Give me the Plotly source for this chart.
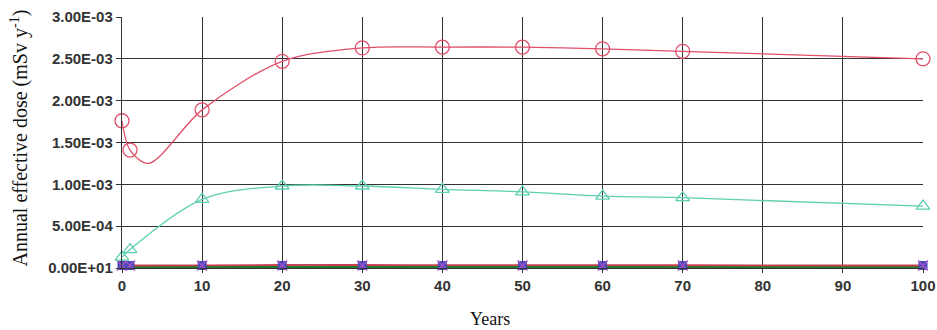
import plotly.graph_objects as go

years = [0, 1, 10, 20, 30, 40, 50, 60, 70, 100]

dose_red = [1.76e-3, 1.41e-3, 1.89e-3, 2.47e-3, 2.63e-3, 2.64e-3, 2.64e-3, 2.62e-3, 2.59e-3, 2.50e-3]
# red curve passes through a minimum between the first marked years
red_line_years = [0, 1, 3.3, 10, 20, 30, 40, 50, 60, 70, 100]
red_line_dose = [1.76e-3, 1.41e-3, 1.25e-3, 1.89e-3, 2.47e-3, 2.63e-3, 2.64e-3, 2.64e-3, 2.62e-3, 2.59e-3, 2.50e-3]

dose_cyan = [1.3e-4, 2.2e-4, 8.2e-4, 9.8e-4, 9.8e-4, 9.4e-4, 9.1e-4, 8.6e-4, 8.4e-4, 7.4e-4]
dose_darkred = [3.0e-5, 3.0e-5, 3.2e-5, 3.6e-5, 3.6e-5, 3.5e-5, 3.4e-5, 3.4e-5, 3.3e-5, 3.0e-5]
dose_blue = [3.0e-5, 3.0e-5, 3.0e-5, 3.0e-5, 3.0e-5, 3.0e-5, 3.0e-5, 3.0e-5, 3.0e-5, 3.0e-5]
dose_purple = [3.0e-5, 3.0e-5, 3.0e-5, 3.0e-5, 3.0e-5, 3.0e-5, 3.0e-5, 3.0e-5, 3.0e-5, 3.0e-5]
dose_green = [5e-6, 5e-6, 6e-6, 8e-6, 8e-6, 8e-6, 7e-6, 7e-6, 7e-6, 6e-6]

y_tickvals = [0, 5e-4, 1e-3, 1.5e-3, 2e-3, 2.5e-3, 3e-3]
y_ticktext = ["0.00E+01", "5.00E-04", "1.00E-03", "1.50E-03", "2.00E-03", "2.50E-03", "3.00E-03"]
x_tickvals = [0, 10, 20, 30, 40, 50, 60, 70, 80, 90, 100]

fig = go.Figure()

fig.add_trace(go.Scatter(x=years, y=dose_green, mode="lines",
                         line=dict(color="#217a2a", width=3.5, shape="spline"),
                         cliponaxis=False, showlegend=False))
fig.add_trace(go.Scatter(x=years, y=dose_darkred, mode="lines",
                         line=dict(color="#c8404f", width=1.8, shape="spline"),
                         cliponaxis=False, showlegend=False))
fig.add_trace(go.Scatter(x=years, y=dose_blue, mode="markers",
                         marker=dict(symbol="square", size=8, color="#4a4ab8",
                                     line=dict(color="#4a4ab8", width=1)),
                         cliponaxis=False, showlegend=False))
fig.add_trace(go.Scatter(x=years, y=dose_purple, mode="markers",
                         marker=dict(symbol="x-thin-open", size=10, color="#a050c8",
                                     line=dict(color="#a050c8", width=1.5)),
                         cliponaxis=False, showlegend=False))
fig.add_trace(go.Scatter(x=years, y=dose_cyan, mode="lines+markers",
                         line=dict(color="#5fcfb2", width=1.3, shape="spline"),
                         marker=dict(symbol="triangle-up-open", size=12, color="#5fcfb2",
                                     line=dict(width=1.3)),
                         cliponaxis=False, showlegend=False))
fig.add_trace(go.Scatter(x=red_line_years, y=red_line_dose, mode="lines",
                         line=dict(color="#e0506a", width=1.3, shape="spline", smoothing=0.9),
                         cliponaxis=False, showlegend=False))
fig.add_trace(go.Scatter(x=years, y=dose_red, mode="markers",
                         marker=dict(symbol="circle-open", size=14, color="#e0506a",
                                     line=dict(width=1.3)),
                         cliponaxis=False, showlegend=False))

axis_font = dict(family="Liberation Sans, Arial, sans-serif", size=15, color="#333333", weight="bold")

fig.update_xaxes(range=[0, 100], tickvals=x_tickvals, ticks="outside", ticklen=4,
                 tickcolor="#333333", showgrid=True, gridcolor="#333333", gridwidth=1.4,
                 showline=True, linecolor="#333333", linewidth=1.4, zeroline=False,
                 tickfont=axis_font, automargin=False)
fig.update_yaxes(range=[0, 3e-3], tickvals=y_tickvals, ticktext=y_ticktext,
                 ticks="outside", ticklen=5, tickcolor="#333333",
                 showgrid=True, gridcolor="#333333", gridwidth=1.4,
                 showline=True, linecolor="#333333", linewidth=1.4, zeroline=False,
                 tickfont=axis_font, automargin=False)

fig.add_annotation(text="Annual effective dose (mSv y<sup>-1</sup>)", xref="paper", yref="paper",
                   x=0, y=0.5, xanchor="center", yanchor="middle", xshift=-103, yshift=4,
                   textangle=-90, showarrow=False,
                   font=dict(family="Liberation Serif, Times New Roman, serif", size=20, color="#111111"))
fig.add_annotation(text="Years", xref="paper", yref="paper",
                   x=0.5, y=0, xanchor="center", yanchor="middle", xshift=-33, yshift=-51,
                   showarrow=False,
                   font=dict(family="Liberation Serif, Times New Roman, serif", size=18, color="#111111"))

fig.update_layout(width=937, height=330, margin=dict(l=122, r=14, t=17, b=62),
                  paper_bgcolor="white", plot_bgcolor="white")

fig.write_html("out.html", config={"displayModeBar": False},
               post_script="document.body.style.margin='0px';")
